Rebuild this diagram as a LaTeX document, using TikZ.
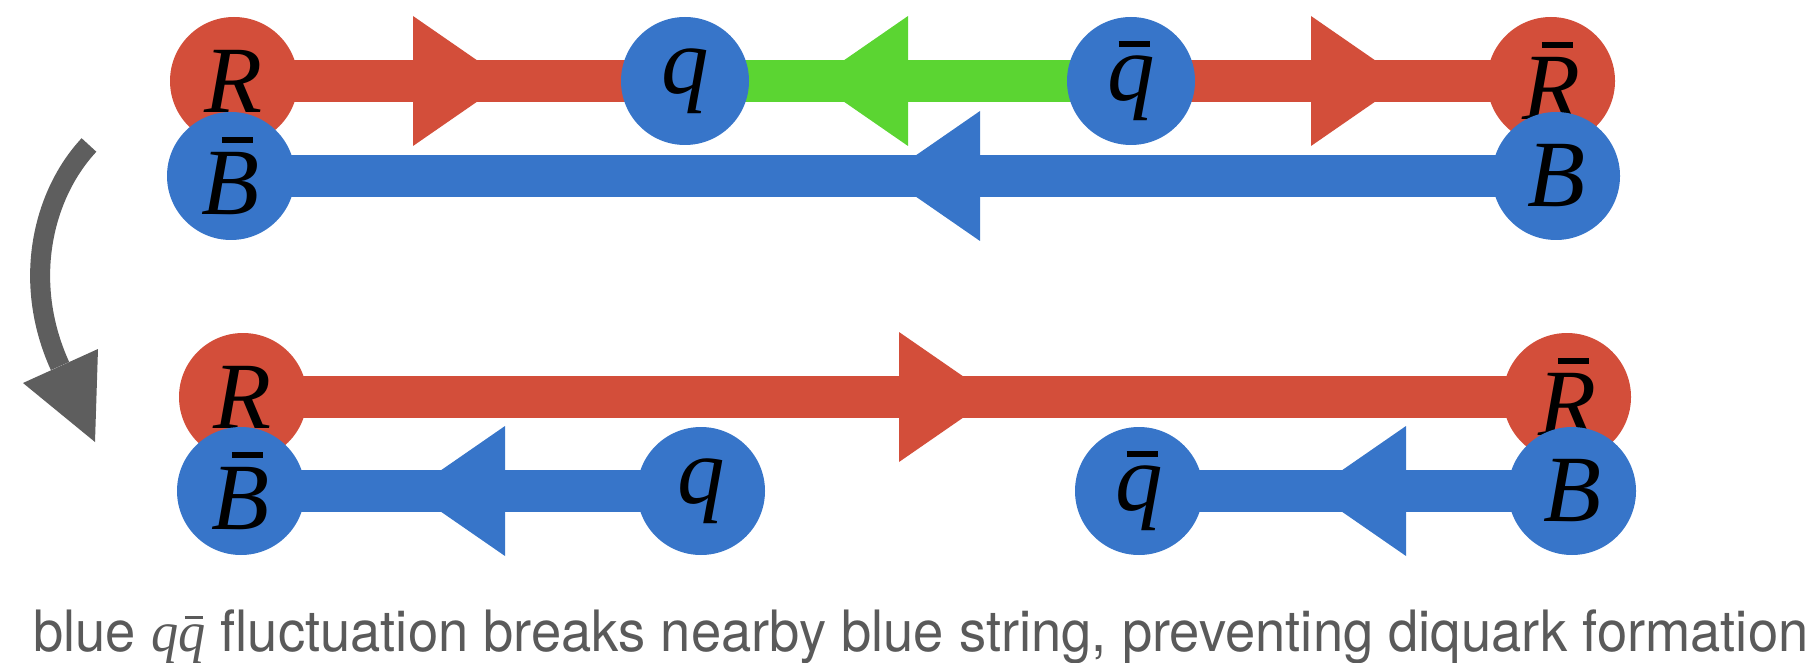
\documentclass[tikz,border=0pt]{standalone}
\usepackage{fontspec}
\setmainfont{Liberation Serif}
\setsansfont{TeX Gyre Heros}
\usetikzlibrary{backgrounds}

\definecolor{qred}{HTML}{D34E3A}
\definecolor{qblue}{HTML}{3775C9}
\definecolor{qgreen}{HTML}{5BD532}
\definecolor{arrowgray}{HTML}{5E5E5E}
\definecolor{captiongray}{HTML}{5A5A5A}

% anti-colour bars over capital and lowercase italic letters
\newcommand\capbar[1]{\rlap{\hspace{0.21em}\rule[0.76em]{0.33em}{0.06em}}#1}
\newcommand\lowbar[1]{\rlap{\hspace{0.12em}\rule[0.56em]{0.33em}{0.06em}}#1}

\tikzset{
  pics/flux/.style={code={\fill (0,-65) -- (94,0) -- (0,65) -- cycle;}},
}

\begin{document}
\begin{tikzpicture}[x=0.5pt,y=-0.5pt,
  charge/.style={circle, minimum size=64pt, inner sep=0pt,
    font=\fontsize{47.5}{50}\selectfont\itshape},
  redcharge/.style={charge, fill=qred},
  bluecharge/.style={charge, fill=qblue},
  string/.style={line width=21pt},
  turnarrow/.style={arrowgray, line width=10pt}]
\useasboundingbox (0,0) rectangle (1814,663);

% colour charges: red ones first, blue ones drawn over them
\node[redcharge] (R1)  at (234,81)   {R};
\node[redcharge] (Rb1) at (1551,81)  {\capbar{R}};
\node[redcharge] (R2)  at (243,397)  {R};
\node[redcharge] (Rb2) at (1567,397) {\capbar{R}};

\node[bluecharge] (q1)  at (685,81)   {q};
\node[bluecharge] (qb1) at (1131,81)  {\lowbar{q}};
\node[bluecharge] (Bb1) at (231,176)  {\capbar{B}};
\node[bluecharge] (B1)  at (1556,176) {B};
\node[bluecharge] (Bb2) at (241,491)  {\capbar{B}};
\node[bluecharge] (q2)  at (701,491)  {q};
\node[bluecharge] (qb2) at (1139,491) {\lowbar{q}};
\node[bluecharge] (B2)  at (1572,491) {B};

% strings behind the charges
\begin{scope}[on background layer]
  \draw[string, qred]   (R1.center)  -- (q1.center);
  \draw[string, qgreen] (q1.center)  -- (qb1.center);
  \draw[string, qred]   (qb1.center) -- (Rb1.center);
  \draw[string, qblue]  (Bb1.center) -- (B1.center);
  \draw[string, qred]   (R2.center)  -- (Rb2.center);
  \draw[string, qblue]  (Bb2.center) -- (q2.center);
  \draw[string, qblue]  (qb2.center) -- (B2.center);
\end{scope}

% flux direction heads
\pic[qred] at (413,81) {flux};
\pic[qgreen, xscale=-1] at (908,81) {flux};
\pic[qred] at (1311,81) {flux};
\pic[qblue, xscale=-1] at (980,176) {flux};
\pic[qred] at (899,397) {flux};
\pic[qblue, xscale=-1] at (505,491) {flux};
\pic[qblue, xscale=-1] at (1406,491) {flux};

% transition arrow from the upper to the lower configuration
\coordinate (turnstart) at (89,145);
\coordinate (turnend) at (60,366);
\draw[turnarrow] (turnstart) .. controls (44,193) and (21,280) .. (turnend);
\fill[arrowgray] (23,383) -- (98,349) -- (95,442) -- cycle;

% caption
\node[anchor=base west, inner sep=0pt, text=captiongray] (caption) at (33,651)
  {\resizebox{887.5pt}{\height}{\fontsize{28.5}{30}\selectfont\sffamily blue
   {\rmfamily\itshape q\lowbar{q}} fluctuation breaks nearby blue string,
   preventing diquark formation}};
\end{tikzpicture}
\end{document}
